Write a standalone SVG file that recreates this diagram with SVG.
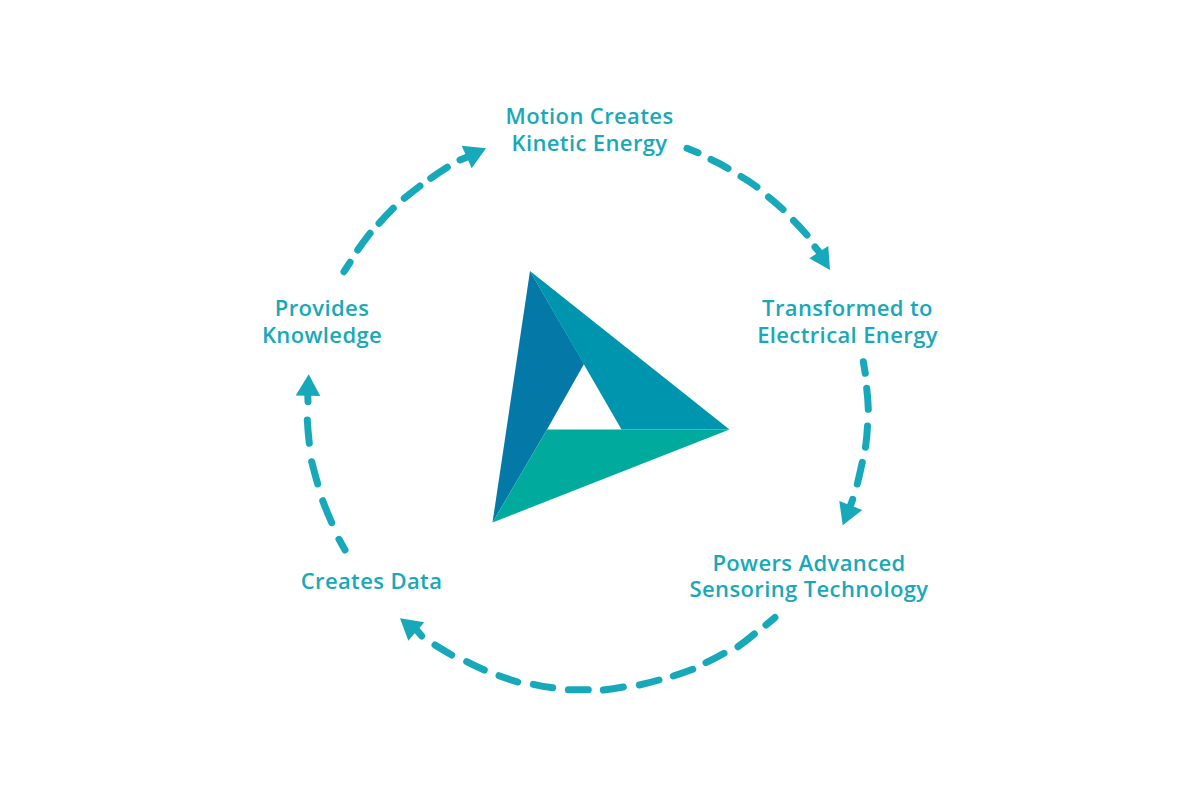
<svg xmlns="http://www.w3.org/2000/svg" width="1201" height="801" viewBox="0 0 1201 801">
<style>
text{font-family:"Open Sans","Noto Sans",sans-serif;font-weight:600;font-size:22px;letter-spacing:.38px;fill:#17a9ba;text-anchor:middle}
.d{fill:none;stroke:#17a9ba;stroke-width:7;stroke-linecap:round}
.h{fill:#17a9ba}
</style>
<rect width="1201" height="801" fill="#fff"/>
<g id="connectors">
<g id="c1"><path class="d" d="M687 148.300L698 152.700M711 159.500Q720 163.500 728 168.500M741 176.500Q749 181 757 187M768.500 197Q776 203 783 209.500M793.500 220.500Q800 227 807 235M815 247L820 253"/><polygon class="h" points="830,270 828.300,246 809.300,258.300"/></g>
<g id="c2"><path class="d" d="M863.300 361.700L865.300 373.300M866.700 388.300Q868 399 868.300 409.300M867.500 426Q867 437 865.500 447.300M862.300 462.300Q860 473 857.300 484M852.700 499.300L850.700 505"/><polygon class="h" points="842.700,525.300 839.300,501 862.300,510"/></g>
<g id="c3"><path class="d" d="M775 617.500L766 625M754.300 634Q746 641 738 646.700M724 653.300Q715 658.500 706 662.700M692.700 669.300Q683 673 673.300 676M659 680Q649 682.800 639.300 685M623.300 687Q613 688.800 603.300 690M588.300 689.700H568.300M552.700 687.700Q543 686.500 533.300 684.300M517.700 682Q508 679 499 675.700M484.300 670Q475 666 466.700 661.700M451.700 655Q443 650 435 645M421.700 636L416.700 630"/><polygon class="h" points="400,618.300 424.300,622.300 408.300,640.700"/></g>
<g id="c4"><path class="d" d="M345 550L339 539.300M331.700 522.700Q327 512 322.700 500.700M317.700 484Q314.500 473 311.700 461.700M309.300 443.300Q308 432 307.300 420M308 401.700L307.800 396"/><polygon class="h" points="308.700,374.300 295.700,395.500 320.300,396"/></g>
<g id="c5"><path class="d" d="M344 271.700L350 262.300M357.700 250Q363.500 241.500 370 233.300M379 223.300Q386 215.500 393.300 208.300M404.300 198.300Q412 192 420 186M430.700 178.300Q439 172.500 447.300 167.300M460 160L466.700 157.300"/><polygon class="h" points="486,148.300 461.700,145.700 471.700,168.300"/></g>
</g>
<g id="logo">
<polygon fill="#0479a8" points="530,271 584,364 547,429.500 492.500,522.500"/>
<polygon fill="#0095ae" points="530,271 729.500,429.500 621.500,429.500"/>
<polygon fill="#00ab9e" points="547,429.500 729.500,429.500 492.500,522.500"/>
</g>
<g id="n1"><text x="589.500" y="124">Motion Creates</text><text x="589.500" y="151">Kinetic Energy</text></g>
<g id="n2"><text x="847.500" y="316">Transformed to</text><text x="847.500" y="343">Electrical Energy</text></g>
<g id="n3"><text x="809" y="571">Powers Advanced</text><text x="809" y="597">Sensoring Technology</text></g>
<g id="n4"><text x="371.500" y="589">Creates Data</text></g>
<g id="n5"><text x="322" y="316">Provides</text><text x="322" y="343">Knowledge</text></g>
</svg>
